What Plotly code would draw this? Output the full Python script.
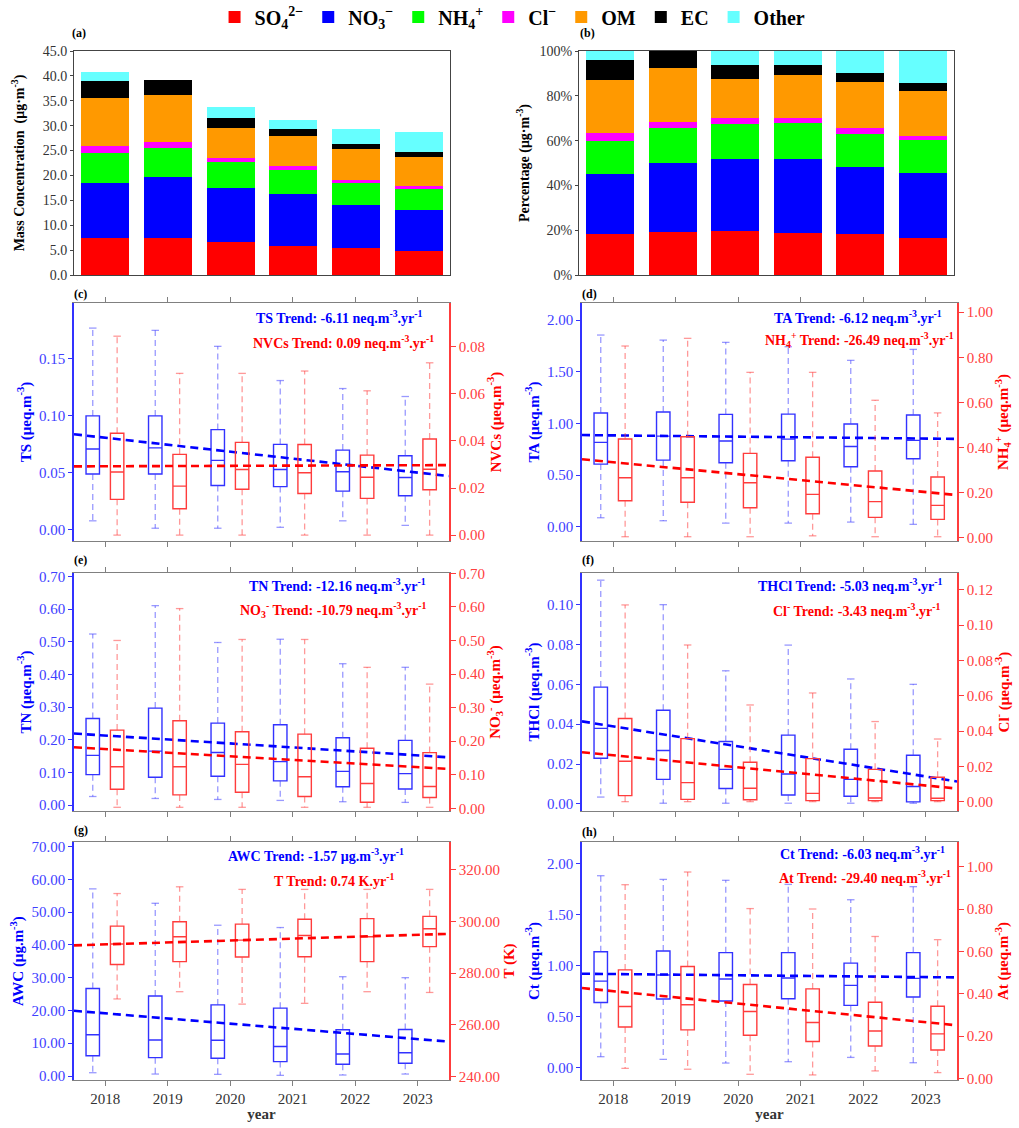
import plotly.graph_objects as go

# ---------------- data ----------------
years = [2018, 2019, 2020, 2021, 2022, 2023]

# panel (a): mass concentration of components (ug m-3)
so4 = [7.5, 7.5, 6.6, 5.9, 5.35, 4.8]
no3 = [10.95, 12.1, 10.8, 10.3, 8.7, 8.3]
nh4 = [6.0, 6.0, 5.25, 4.9, 4.35, 4.2]
cl = [1.47, 1.1, 0.95, 0.74, 0.74, 0.6]
om = [9.55, 9.5, 5.95, 6.07, 6.1, 5.8]
ec = [3.6, 2.9, 2.0, 1.33, 1.07, 0.95]
other = [1.7, 0.0, 2.15, 1.95, 2.93, 4.15]

# box statistics: lo (lower whisker), q1, med, q3, hi (upper whisker)
TS_hi = [0.177, 0.175, 0.161, 0.131, 0.124, 0.117]
TS_q3 = [0.100, 0.100, 0.088, 0.075, 0.070, 0.065]
TS_med = [0.071, 0.072, 0.061, 0.053, 0.051, 0.046]
TS_q1 = [0.049, 0.049, 0.039, 0.038, 0.034, 0.030]
TS_lo = [0.008, 0.0015, 0.0015, 0.0023, 0.008, 0.004]

NVC_hi = [0.0845, 0.0687, 0.0687, 0.0697, 0.0613, 0.0732]
NVC_q3 = [0.0433, 0.0343, 0.0394, 0.0385, 0.0340, 0.0408]
NVC_med = [0.0268, 0.0208, 0.0279, 0.0265, 0.0246, 0.0280]
NVC_q1 = [0.0152, 0.0112, 0.0195, 0.0177, 0.0156, 0.0193]
NVC_lo = [0.0, 0.0, 0.0, 0.0, 0.0, 0.0]

TA_hi = [1.855, 1.806, 1.784, 1.742, 1.610, 1.716]
TA_q3 = [1.100, 1.110, 1.087, 1.090, 0.994, 1.081]
TA_med = [0.816, 0.877, 0.829, 0.848, 0.777, 0.836]
TA_q1 = [0.606, 0.645, 0.619, 0.639, 0.581, 0.658]
TA_lo = [0.087, 0.058, 0.035, 0.035, 0.045, 0.023]

NH4_hi = [0.850, 0.884, 0.733, 0.733, 0.609, 0.553]
NH4_q3 = [0.437, 0.447, 0.373, 0.356, 0.295, 0.268]
NH4_med = [0.265, 0.265, 0.243, 0.191, 0.159, 0.142]
NH4_q1 = [0.163, 0.156, 0.132, 0.105, 0.089, 0.080]
NH4_lo = [0.003, 0.003, 0.003, 0.007, 0.003, 0.003]

TN_hi = [0.524, 0.611, 0.498, 0.508, 0.433, 0.422]
TN_q3 = [0.265, 0.297, 0.251, 0.246, 0.206, 0.198]
TN_med = [0.152, 0.165, 0.161, 0.133, 0.103, 0.096]
TN_q1 = [0.093, 0.085, 0.088, 0.074, 0.056, 0.049]
TN_lo = [0.026, 0.020, 0.017, 0.014, 0.010, 0.008]

NO3_hi = [0.500, 0.595, 0.503, 0.503, 0.420, 0.370]
NO3_q3 = [0.233, 0.261, 0.228, 0.221, 0.179, 0.166]
NO3_med = [0.124, 0.124, 0.131, 0.094, 0.074, 0.065]
NO3_q1 = [0.057, 0.040, 0.048, 0.035, 0.018, 0.032]
NO3_lo = [0.003, 0.003, 0.003, 0.003, 0.003, 0.003]

THCl_hi = [0.1123, 0.100, 0.0668, 0.0797, 0.0627, 0.060]
THCl_q3 = [0.0586, 0.0470, 0.0313, 0.0345, 0.0274, 0.0244]
THCl_med = [0.0379, 0.0268, 0.0173, 0.0150, 0.0123, 0.0087]
THCl_q1 = [0.0229, 0.0123, 0.0077, 0.0044, 0.0038, 0.0010]
THCl_lo = [0.0034, 0.0003, 0.0003, 0.0003, 0.0003, 0.0003]

CL_hi = [0.1115, 0.0888, 0.0548, 0.0616, 0.0454, 0.0355]
CL_q3 = [0.0471, 0.0357, 0.0223, 0.0244, 0.0183, 0.0138]
CL_med = [0.0229, 0.0108, 0.0076, 0.0047, 0.0021, 0.0019]
CL_q1 = [0.0034, 0.0013, 0.0011, 0.0006, 0.0006, 0.0006]
CL_lo = [0.0, 0.0, 0.0, 0.0, 0.0, 0.0]

AWC_hi = [57.1, 52.7, 46.0, 45.3, 30.3, 30.0]
AWC_q3 = [26.7, 24.4, 21.7, 20.7, 14.1, 14.2]
AWC_med = [12.6, 11.0, 10.9, 9.0, 6.7, 7.1]
AWC_q1 = [6.2, 5.6, 5.4, 4.4, 3.6, 3.9]
AWC_lo = [1.0, 0.6, 0.5, 0.2, 0.3, 0.6]

T_hi = [310.7, 313.3, 312.3, 312.3, 312.3, 312.3]
T_q3 = [298.1, 299.8, 298.9, 300.8, 301.0, 301.9]
T_med = [291.2, 294.0, 292.7, 294.5, 294.0, 297.1]
T_q1 = [283.3, 284.4, 286.2, 286.3, 284.4, 290.2]
T_lo = [270.0, 272.8, 268.0, 268.3, 272.8, 272.5]

CT_hi = [1.879, 1.843, 1.834, 1.794, 1.644, 1.772]
CT_q3 = [1.135, 1.142, 1.126, 1.126, 1.024, 1.126]
CT_med = [0.848, 0.907, 0.868, 0.878, 0.806, 0.874]
CT_q1 = [0.639, 0.672, 0.653, 0.675, 0.610, 0.692]
CT_lo = [0.108, 0.082, 0.046, 0.059, 0.101, 0.049]

AT_hi = [0.916, 0.976, 0.803, 0.801, 0.671, 0.656]
AT_q3 = [0.513, 0.529, 0.444, 0.423, 0.360, 0.341]
AT_med = [0.340, 0.348, 0.316, 0.264, 0.224, 0.210]
AT_q1 = [0.243, 0.229, 0.204, 0.174, 0.153, 0.134]
AT_lo = [0.047, 0.043, 0.019, 0.016, 0.035, 0.027]

# trend lines: value at start of the axis (2017.5) and slope per year (label units)
trend_start = {'TS': 0.0839, 'NVC': 0.0292, 'TA': 0.887, 'NH4': 0.347, 'TN': 0.219,
               'NO3': 0.182, 'THCl': 0.0414, 'CL': 0.028, 'AWC': 19.9, 'T': 290.7,
               'CT': 0.920, 'AT': 0.427}
trend_slope = {'TS': -6.11, 'NVC': 0.09, 'TA': -6.12, 'NH4': -26.49, 'TN': -12.16,
               'NO3': -10.79, 'THCl': -5.03, 'CL': -3.43, 'AWC': -1.57, 'T': 0.74,
               'CT': -6.03, 'AT': -29.40}
# series whose slope is already in axis units (others: neq -> ueq)
unit_factor = {'AWC': 1.0, 'T': 1.0}

# ---------------- styling ----------------
W, H = 1019, 1128
FONT = 'Liberation Serif'
BLUE = '#0000ff'
RED = '#ff0000'
BLUE_T = '#4040ff'
RED_T = '#ff4040'
BLUE_BOX = 'rgb(50,50,255)'
RED_BOX = 'rgb(255,60,60)'
BLUE_W = 'rgba(70,70,255,0.55)'
RED_W = 'rgba(255,70,70,0.55)'
GRAY = '#808080'
XR = [2017.5, 2023.5]
CAP = 0.06
BOXW = 0.215
OFF_L, OFF_R = -0.2, 0.19


def fx(p):
    return p / W


def fy(p):
    return 1 - p / H


fig = go.Figure()

# ---------------- panels (a) and (b) ----------------
comp_names = ['SO<sub>4</sub><sup>2−</sup>', 'NO<sub>3</sub><sup>−</sup>', 'NH<sub>4</sub><sup>+</sup>',
              'Cl<sup>−</sup>', 'OM', 'EC', 'Other']
comp_colors = ['#ff0000', '#0000ff', '#00ff00', '#ff00ff', '#ff9900', '#000000', '#66ffff']
comp_values = [so4, no3, nh4, cl, om, ec, other]
totals = [sum(v) for v in zip(*comp_values)]

for name, col, vals in zip(comp_names, comp_colors, comp_values):
    fig.add_trace(go.Bar(x=years, y=vals, name='<b>' + name + '</b>', marker=dict(color=col, line=dict(width=0)),
                         width=0.77, xaxis='x', yaxis='y', legendgroup=name))
    pct = [v / t * 100 for v, t in zip(vals, totals)]
    fig.add_trace(go.Bar(x=years, y=pct, name='<b>' + name + '</b>', marker=dict(color=col, line=dict(width=0)),
                         width=0.77, xaxis='x2', yaxis='y2', legendgroup=name, showlegend=False))

layout = dict(
    width=W, height=H, margin=dict(l=0, r=0, t=0, b=0, autoexpand=False),
    paper_bgcolor='white', plot_bgcolor='white',
    barmode='stack', boxmode='overlay', bargap=0,
    font=dict(family=FONT, color='#333333'),
    showlegend=True,
    legend=dict(orientation='h', x=0.503, xanchor='center', y=fy(17), yanchor='middle',
                font=dict(size=20, color='black', family=FONT), itemwidth=30,
                bgcolor='rgba(0,0,0,0)', tracegroupgap=0),
)

ax_common = dict(showgrid=False, zeroline=False)
for i, (x0, x1, title, rng, tv, tt, so) in enumerate([
        (74, 450, '<b>Mass Concentration  (μg·m<sup>-3</sup>)</b>', [0, 45],
         [0, 5, 10, 15, 20, 25, 30, 35, 40, 45], ['%.1f' % v for v in [0, 5, 10, 15, 20, 25, 30, 35, 40, 45]], 14),
        (579, 954, '<b>Percentage (μg·m<sup>-3</sup>)</b>', [0, 100],
         [0, 20, 40, 60, 80, 100], ['%d%%' % v for v in [0, 20, 40, 60, 80, 100]], 6)]):
    xs = '' if i == 0 else '2'
    layout['xaxis' + xs] = dict(domain=[fx(x0), fx(x1)], range=XR, anchor='y' + xs,
                                showticklabels=False, ticks='', showline=True, linecolor='#444444',
                                linewidth=1, mirror=True, **ax_common)
    layout['yaxis' + xs] = dict(domain=[fy(275), fy(51)], range=rng, anchor='x' + xs,
                                tickvals=tv, ticktext=tt, tickfont=dict(size=14, color='#333333'),
                                ticks='outside', ticklen=3, tickcolor='#444444',
                                showline=True, linecolor='#444444', linewidth=1, mirror=True,
                                title=dict(text=title, font=dict(size=14, color='black'), standoff=so),
                                **ax_common)

# ---------------- box panels ----------------
stats = {
    'TS': (TS_lo, TS_q1, TS_med, TS_q3, TS_hi),
    'NVC': (NVC_lo, NVC_q1, NVC_med, NVC_q3, NVC_hi),
    'TA': (TA_lo, TA_q1, TA_med, TA_q3, TA_hi),
    'NH4': (NH4_lo, NH4_q1, NH4_med, NH4_q3, NH4_hi),
    'TN': (TN_lo, TN_q1, TN_med, TN_q3, TN_hi),
    'NO3': (NO3_lo, NO3_q1, NO3_med, NO3_q3, NO3_hi),
    'THCl': (THCl_lo, THCl_q1, THCl_med, THCl_q3, THCl_hi),
    'CL': (CL_lo, CL_q1, CL_med, CL_q3, CL_hi),
    'AWC': (AWC_lo, AWC_q1, AWC_med, AWC_q3, AWC_hi),
    'T': (T_lo, T_q1, T_med, T_q3, T_hi),
    'CT': (CT_lo, CT_q1, CT_med, CT_q3, CT_hi),
    'AT': (AT_lo, AT_q1, AT_med, AT_q3, AT_hi),
}

MU = 'μeq.m<sup>-3</sup>'
panels = [
    dict(label='(c)', col=0, row=0, L='TS', R='NVC',
         Lt='TS (' + MU + ')', Rt='NVCs (' + MU + ')',
         Lr=[-0.0097, 0.199], Rr=[-0.0025, 0.0986],
         Lv=[0, 0.05, 0.10, 0.15], Rv=[0, 0.02, 0.04, 0.06, 0.08], fmt=('%.2f', '%.2f'),
         Ltxt='TS Trend: -6.11 neq.m<sup>-3</sup>.yr<sup>-1</sup>',
         Rtxt='NVCs Trend: 0.09 neq.m<sup>-3</sup>.yr<sup>-1</sup>',
         Lpos=(425, 317), Rpos=(436, 342)),
    dict(label='(d)', col=1, row=0, L='TA', R='NH4',
         Lt='TA (' + MU + ')', Rt='NH<sub>4</sub><sup>+</sup> (' + MU + ')',
         Lr=[-0.138, 2.165], Rr=[-0.016, 1.041],
         Lv=[0, 0.5, 1.0, 1.5, 2.0], Rv=[0, 0.2, 0.4, 0.6, 0.8, 1.0], fmt=('%.2f', '%.2f'),
         Ltxt='TA Trend: -6.12 neq.m<sup>-3</sup>.yr<sup>-1</sup>',
         Rtxt='NH<sub>4</sub><sup>+</sup> Trend: -26.49 neq.m<sup>-3</sup>.yr<sup>-1</sup>',
         Lpos=(944, 317), Rpos=(956, 340)),
    dict(label='(e)', col=0, row=1, L='TN', R='NO3',
         Lt='TN (' + MU + ')', Rt='NO<sub>3</sub><sup>-</sup> (' + MU + ')',
         Lr=[-0.0184, 0.711], Rr=[-0.008, 0.701],
         Lv=[0, 0.1, 0.2, 0.3, 0.4, 0.5, 0.6, 0.7], Rv=[0, 0.1, 0.2, 0.3, 0.4, 0.5, 0.6, 0.7],
         fmt=('%.2f', '%.2f'),
         Ltxt='TN Trend: -12.16 neq.m<sup>-3</sup>.yr<sup>-1</sup>',
         Rtxt='NO<sub>3</sub><sup>-</sup> Trend: -10.79 neq.m<sup>-3</sup>.yr<sup>-1</sup>',
         Lpos=(428, 585), Rpos=(428, 610)),
    dict(label='(f)', col=1, row=1, L='THCl', R='CL',
         Lt='THCl (' + MU + ')', Rt='Cl<sup>-</sup> (' + MU + ')',
         Lr=[-0.0036, 0.1159], Rr=[-0.0053, 0.1296],
         Lv=[0, 0.02, 0.04, 0.06, 0.08, 0.10], Rv=[0, 0.02, 0.04, 0.06, 0.08, 0.10, 0.12],
         fmt=('%.2f', '%.2f'),
         Ltxt='THCl Trend: -5.03 neq.m<sup>-3</sup>.yr<sup>-1</sup>',
         Rtxt='Cl<sup>-</sup> Trend: -3.43 neq.m<sup>-3</sup>.yr<sup>-1</sup>',
         Lpos=(944, 585), Rpos=(942, 610)),
    dict(label='(g)', col=0, row=2, L='AWC', R='T',
         Lt='AWC (μg.m<sup>-3</sup>)', Rt='T (K)',
         Lr=[-1.22, 71.4], Rr=[238.7, 330.6],
         Lv=[0, 10, 20, 30, 40, 50, 60, 70], Rv=[240, 260, 280, 300, 320], fmt=('%.2f', '%.2f'),
         Ltxt='AWC Trend: -1.57 μg.m<sup>-3</sup>.yr<sup>-1</sup>',
         Rtxt='T Trend: 0.74 K.yr<sup>-1</sup>',
         Lpos=(406, 855), Rpos=(396, 880)),
    dict(label='(h)', col=1, row=2, L='CT', R='AT',
         Lt='Ct (' + MU + ')', Rt='At (' + MU + ')',
         Lr=[-0.12, 2.209], Rr=[-0.008, 1.118],
         Lv=[0, 0.5, 1.0, 1.5, 2.0], Rv=[0, 0.2, 0.4, 0.6, 0.8, 1.0], fmt=('%.2f', '%.2f'),
         Ltxt='Ct Trend: -6.03 neq.m<sup>-3</sup>.yr<sup>-1</sup>',
         Rtxt='At Trend: -29.40 neq.m<sup>-3</sup>.yr<sup>-1</sup>',
         Lpos=(947, 853), Rpos=(953, 877)),
]

col_x = [(74, 449), (582, 957)]
row_y = [(303, 541), (573, 811), (842, 1080)]
label_pos = {'(a)': (70, 33), '(b)': (578, 33), '(c)': (72, 294), '(d)': (580, 294),
             '(e)': (72, 560), '(f)': (580, 560), '(g)': (72, 830), '(h)': (580, 832)}

annotations = []
for lab in ['(a)', '(b)']:
    px_, py_ = label_pos[lab]
    annotations.append(dict(text='<b>' + lab + '</b>', x=fx(px_), y=fy(py_), xref='paper', yref='paper',
                            xanchor='left', yanchor='middle', showarrow=False,
                            font=dict(size=12, color='black', family=FONT)))


def add_series(key, offset, xa, ya, box_col, wcol, line_col):
    lo, q1, med, q3, hi = stats[key]
    pos = [y + offset for y in years]
    wx, wy, cx, cy = [], [], [], []
    for p, a, b, c, d in zip(pos, lo, q1, q3, hi):
        wx += [p, p, None, p, p, None]
        wy += [c, d, None, b, a, None]
        cx += [p - CAP, p + CAP, None, p - CAP, p + CAP, None]
        cy += [d, d, None, a, a, None]
    fig.add_trace(go.Scatter(x=wx, y=wy, mode='lines', line=dict(color=wcol, width=1.3, dash='6px,4px'),
                             xaxis=xa, yaxis=ya, showlegend=False, hoverinfo='skip'))
    fig.add_trace(go.Scatter(x=cx, y=cy, mode='lines', line=dict(color=wcol, width=1.3),
                             xaxis=xa, yaxis=ya, showlegend=False, hoverinfo='skip'))
    fig.add_trace(go.Box(x=pos, q1=q1, median=med, q3=q3, lowerfence=q1, upperfence=q3,
                         width=BOXW, whiskerwidth=0, line=dict(color=box_col, width=1.4),
                         fillcolor='rgba(0,0,0,0)', xaxis=xa, yaxis=ya, showlegend=False,
                         boxpoints=False, hoverinfo='skip'))
    k = trend_slope[key] / 1000.0 if key not in unit_factor else trend_slope[key] * unit_factor[key]
    ty = [trend_start[key] + k * (xx - XR[0]) for xx in XR]
    fig.add_trace(go.Scatter(x=XR, y=ty, mode='lines', line=dict(color=line_col, width=2.6, dash='8px,5px'),
                             xaxis=xa, yaxis=ya, showlegend=False, hoverinfo='skip'))


for i, p in enumerate(panels):
    xi = i + 3
    yl = 2 * i + 3
    yr = 2 * i + 4
    xa, ya_l, ya_r = 'x%d' % xi, 'y%d' % yl, 'y%d' % yr
    x0, x1 = col_x[p['col']]
    y0, y1 = row_y[p['row']]
    bottom = p['row'] == 2
    layout['xaxis%d' % xi] = dict(domain=[fx(x0), fx(x1)], range=XR, anchor=ya_l,
                                  tickvals=years, ticktext=[str(y) for y in years],
                                  showticklabels=bottom, tickfont=dict(size=15, color='#333333'),
                                  ticks='outside', ticklen=5, tickcolor=GRAY,
                                  showline=True, linecolor=GRAY, linewidth=1, mirror='ticks',
                                  title=dict(text='<b>year</b>' if bottom else '',
                                             font=dict(size=15, color='#333333'), standoff=2),
                                  **ax_common)
    layout['yaxis%d' % yl] = dict(domain=[fy(y1), fy(y0)], range=p['Lr'], anchor=xa,
                                  tickvals=p['Lv'], ticktext=[p['fmt'][0] % v for v in p['Lv']],
                                  tickfont=dict(size=15, color=BLUE_T),
                                  ticks='outside', ticklen=4, tickcolor=BLUE_BOX,
                                  showline=True, linecolor=BLUE_BOX, linewidth=1.5,
                                  title=dict(text='<b>' + p['Lt'] + '</b>', font=dict(size=15, color=BLUE),
                                             standoff=4),
                                  **ax_common)
    layout['yaxis%d' % yr] = dict(range=p['Rr'], anchor=xa, overlaying=ya_l, side='right',
                                  tickvals=p['Rv'], ticktext=[p['fmt'][1] % v for v in p['Rv']],
                                  tickfont=dict(size=15, color=RED_T),
                                  ticks='outside', ticklen=5, tickcolor=RED_BOX,
                                  showline=True, linecolor=RED_BOX, linewidth=1.5,
                                  title=dict(text='<b>' + p['Rt'] + '</b>', font=dict(size=15, color=RED),
                                             standoff=4),
                                  **ax_common)
    add_series(p['L'], OFF_L, xa, ya_l, BLUE_BOX, BLUE_W, BLUE)
    add_series(p['R'], OFF_R, xa, ya_r, RED_BOX, RED_W, RED)
    for txt, pos, colr in [(p['Ltxt'], p['Lpos'], BLUE), (p['Rtxt'], p['Rpos'], RED)]:
        annotations.append(dict(text='<b>' + txt + '</b>', x=fx(pos[0]), y=fy(pos[1]), xref='paper',
                                yref='paper', xanchor='right', yanchor='middle', showarrow=False,
                                font=dict(size=14, color=colr, family=FONT)))
    px_, py_ = label_pos[p['label']]
    annotations.append(dict(text='<b>' + p['label'] + '</b>', x=fx(px_), y=fy(py_), xref='paper',
                            yref='paper', xanchor='left', yanchor='middle', showarrow=False,
                            font=dict(size=12, color='black', family=FONT)))

layout['annotations'] = annotations
fig.update_layout(**layout)
fig.write_html('out.html')
